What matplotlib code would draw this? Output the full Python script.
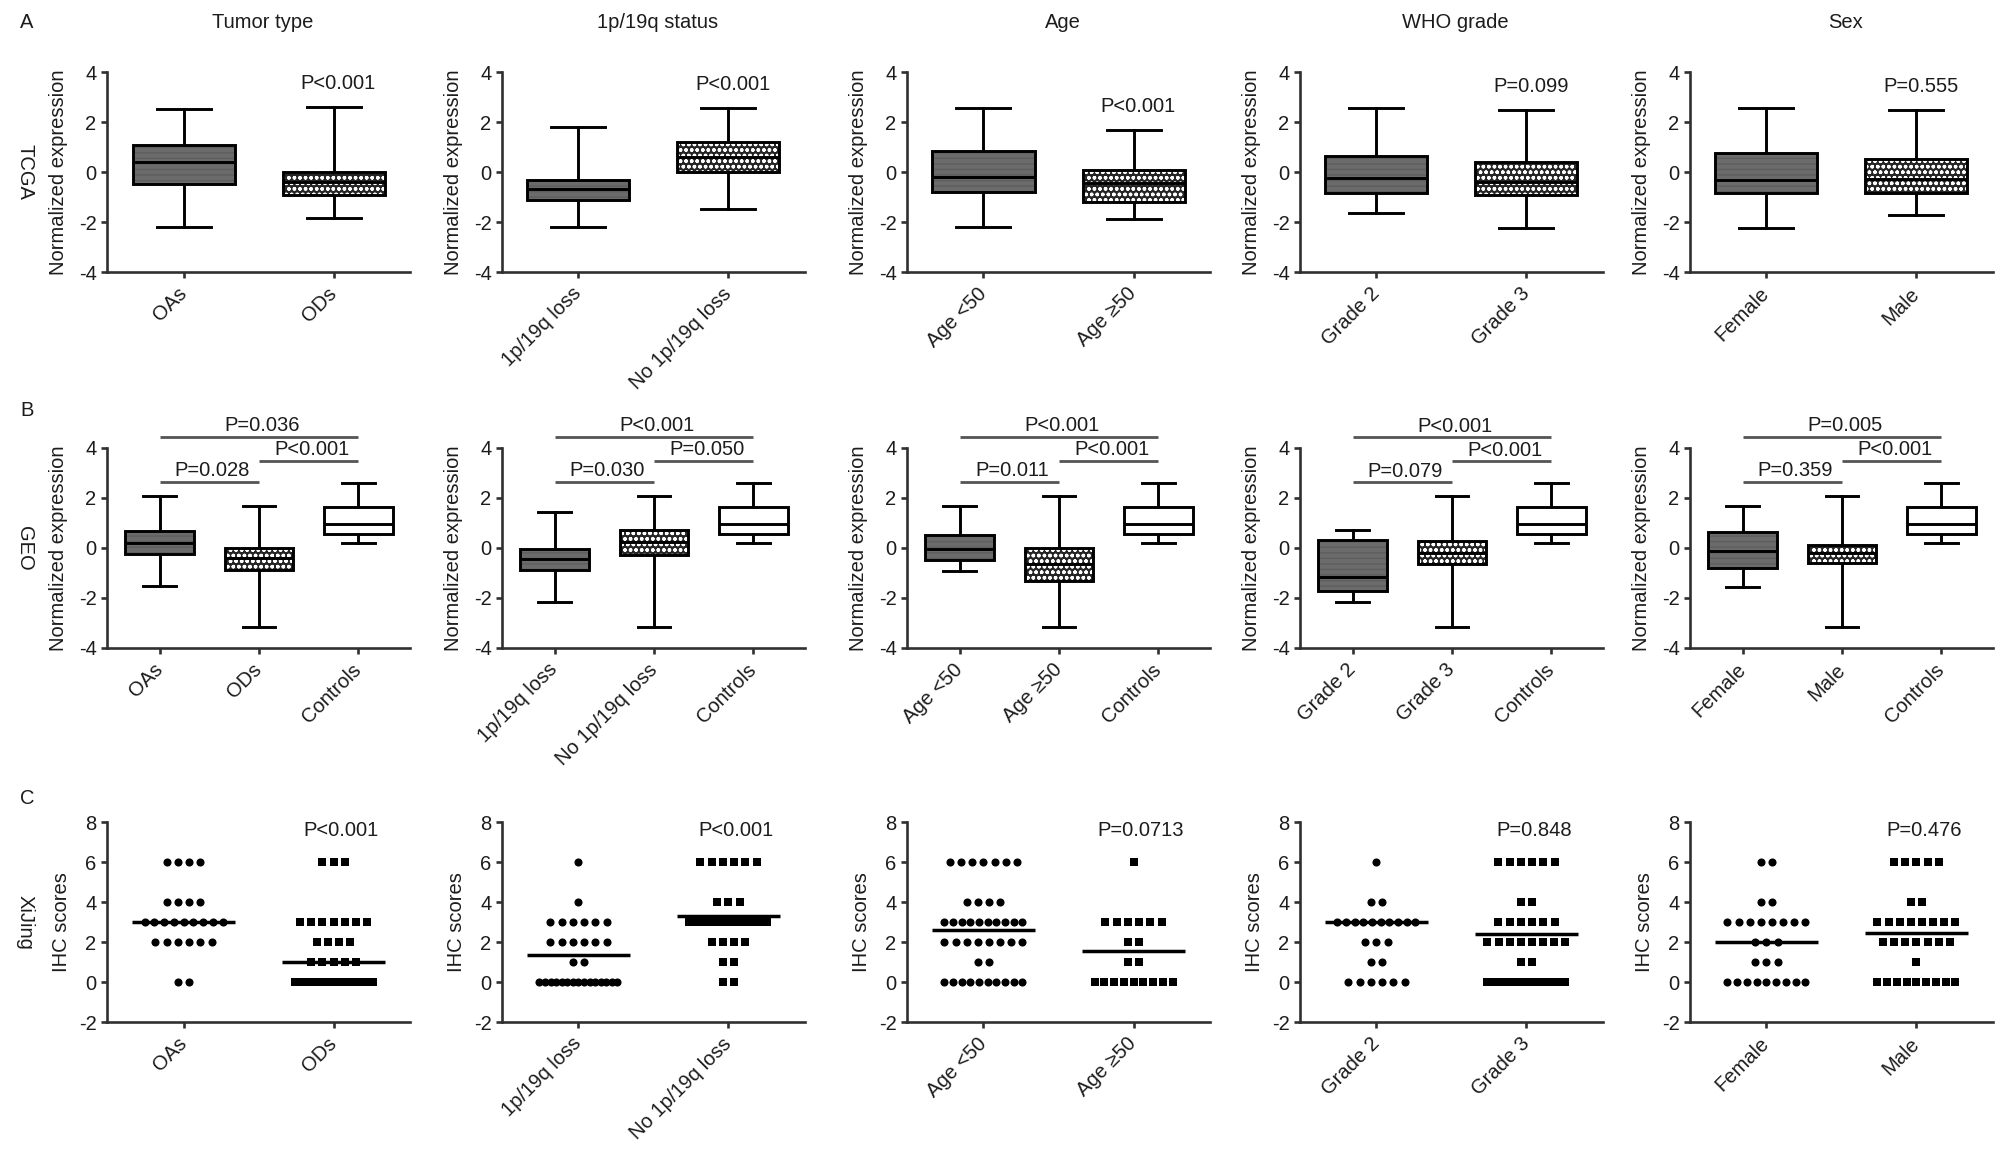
import numpy as np
import matplotlib
matplotlib.use('Agg')
import matplotlib.pyplot as plt
from matplotlib.patches import PathPatch

plt.rcParams['font.family'] = ['Liberation Sans', 'DejaVu Sans']
plt.rcParams['hatch.linewidth'] = 1.0
plt.rcParams['axes.unicode_minus'] = False

# ---- data ----
col_titles = ["Tumor type", "1p/19q status", "Age", "WHO grade", "Sex"]
group_labels = [["OAs", "ODs"],
                ["1p/19q loss", "No 1p/19q loss"],
                ["Age <50", "Age \u226550"],
                ["Grade 2", "Grade 3"],
                ["Female", "Male"]]

# A - TCGA box plots (two groups per panel)
tcga_lo = [[-2.2, -1.84], [-2.2, -1.47], [-2.2, -1.87], [-1.63, -2.24], [-2.23, -1.7]]
tcga_q1 = [[-0.47, -0.9], [-1.13, 0.0], [-0.8, -1.2], [-0.84, -0.93], [-0.84, -0.84]]
tcga_med = [[0.4, -0.4], [-0.67, 0.6], [-0.2, -0.44], [-0.24, -0.4], [-0.31, -0.27]]
tcga_q3 = [[1.07, 0.0], [-0.31, 1.2], [0.83, 0.1], [0.63, 0.4], [0.76, 0.51]]
tcga_hi = [[2.53, 2.6], [1.8, 2.57], [2.57, 1.7], [2.57, 2.47], [2.57, 2.47]]
tcga_p = ["P<0.001", "P<0.001", "P<0.001", "P=0.099", "P=0.555"]

# B - GEO box plots (two groups + controls)
geo_lo = [[-1.51, -3.17, 0.2], [-2.16, -3.17, 0.2], [-0.93, -3.17, 0.2], [-2.16, -3.17, 0.2], [-1.56, -3.17, 0.2]]
geo_q1 = [[-0.24, -0.87, 0.57], [-0.87, -0.29, 0.57], [-0.49, -1.31, 0.57], [-1.73, -0.63, 0.57], [-0.8, -0.6, 0.57]]
geo_med = [[0.2, -0.4, 0.95], [-0.44, 0.23, 0.95], [-0.04, -0.63, 0.95], [-1.17, -0.2, 0.95], [-0.13, -0.2, 0.95]]
geo_q3 = [[0.69, 0.0, 1.65], [-0.03, 0.73, 1.65], [0.51, 0.0, 1.65], [0.31, 0.29, 1.65], [0.64, 0.13, 1.65]]
geo_hi = [[2.09, 1.69, 2.6], [1.43, 2.09, 2.6], [1.69, 2.09, 2.6], [0.73, 2.07, 2.6], [1.69, 2.09, 2.6]]
# p values: group1 vs group2, group2 vs controls, group1 vs controls
geo_p = [["P=0.028", "P<0.001", "P=0.036"],
         ["P=0.030", "P=0.050", "P<0.001"],
         ["P=0.011", "P<0.001", "P<0.001"],
         ["P=0.079", "P<0.001", "P<0.001"],
         ["P=0.359", "P<0.001", "P=0.005"]]

# C - XiJing IHC scores: number of samples at each score
ihc_scores = [0, 1, 2, 3, 4, 6]
ihc_counts_g1 = [[2, 0, 6, 9, 4, 4], [15, 2, 6, 6, 1, 1], [10, 2, 8, 10, 4, 7],
                 [6, 2, 3, 10, 2, 1], [9, 3, 3, 8, 2, 2]]
ihc_counts_g2 = [[16, 5, 4, 7, 0, 3], [2, 2, 4, 12, 3, 6], [9, 2, 2, 6, 0, 1],
                 [12, 2, 8, 6, 2, 6], [9, 1, 7, 8, 2, 5]]
ihc_center = [[3.0, 1.0], [1.35, 3.3], [2.62, 1.55], [3.0, 2.38], [2.0, 2.47]]
xijing_p = ["P<0.001", "P<0.001", "P=0.0713", "P=0.848", "P=0.476"]

# ---- layout (pixels) ----
W, H = 2008, 1155
col_x = [107, 502, 907, 1300, 1690]
ax_w = 303
row_top = [72, 448, 822]
ax_h = 200
TXT = '#1c1c1c'
GRAY = '#6b6b6b'
DARK = '#262626'
FS = 14.5

fig = plt.figure(figsize=(W / 100, H / 100), dpi=100)


def make_ax(col, row):
    return fig.add_axes([col_x[col] / W, 1 - (row_top[row] + ax_h) / H, ax_w / W, ax_h / H])


def style(ax, labels, ylabel, ylim, yticks, xlim, lab_x):
    ax.set_xlim(*xlim)
    ax.set_ylim(*ylim)
    ax.set_yticks(yticks)
    ax.set_xticks(range(len(labels)))
    ax.set_xticklabels(labels, rotation=45, ha='right', va='center', rotation_mode='anchor')
    for s in ['top', 'right']:
        ax.spines[s].set_visible(False)
    for s in ['left', 'bottom']:
        ax.spines[s].set_linewidth(1.9)
        ax.spines[s].set_color('#303030')
    ax.tick_params(axis='both', length=4.5, width=1.9, color='#303030',
                   labelsize=FS, labelcolor=TXT)
    ax.tick_params(axis='x', pad=9)
    ax.tick_params(axis='y', pad=3)
    ax.set_ylabel(ylabel, fontsize=FS, color=TXT)
    ax.yaxis.set_label_coords(lab_x, 0.5)


def draw_boxes(ax, lo, q1, med, q3, hi, width, capw):
    n = len(lo)
    stats = [dict(whislo=lo[i], q1=q1[i], med=med[i], q3=q3[i], whishi=hi[i], fliers=[])
             for i in range(n)]
    bp = ax.bxp(stats, positions=list(range(n)), widths=width, capwidths=capw,
                patch_artist=True, showfliers=False,
                boxprops=dict(facecolor='none', edgecolor='black', linewidth=2.1, zorder=4),
                medianprops=dict(color='black', linewidth=2.1, zorder=5),
                whiskerprops=dict(color='black', linewidth=2.1),
                capprops=dict(color='black', linewidth=2.1))
    for i, box in enumerate(bp['boxes']):
        path = box.get_path()
        if i == 0:
            ax.add_patch(PathPatch(path, facecolor=GRAY, edgecolor='#5e5e5e', hatch='---',
                                   linewidth=0, zorder=2))
        elif i == 1:
            ax.add_patch(PathPatch(path, facecolor=DARK, edgecolor='white', hatch='ooo',
                                   linewidth=0, zorder=2))
        else:
            ax.add_patch(PathPatch(path, facecolor='white', edgecolor='none', zorder=2))
    return bp


# ---- row A : TCGA ----
for c in range(5):
    ax = make_ax(c, 0)
    draw_boxes(ax, tcga_lo[c], tcga_q1[c], tcga_med[c], tcga_q3[c], tcga_hi[c], 0.68, 0.36)
    style(ax, group_labels[c], "Normalized expression", (-4, 4), [-4, -2, 0, 2, 4],
          (-0.51, 1.51), -39 / ax_w)
    ax.text(1.03, tcga_hi[c][1] + 0.55, tcga_p[c], ha='center', va='bottom',
            fontsize=FS, color=TXT)
    fig.text((col_x[c] + ax_w / 2 + 4) / W, 1 - 22 / H, col_titles[c], ha='center', va='center',
             fontsize=FS, color=TXT)

# ---- row B : GEO ----
for c in range(5):
    ax = make_ax(c, 1)
    labels = group_labels[c] + ["Controls"]
    draw_boxes(ax, geo_lo[c], geo_q1[c], geo_med[c], geo_q3[c], geo_hi[c], 0.69, 0.33)
    style(ax, labels, "Normalized expression", (-4, 4), [-4, -2, 0, 2, 4],
          (-0.53, 2.52), -39 / ax_w)
    b1 = max(geo_hi[c][0], geo_hi[c][1]) + 0.55
    b2 = b1 + 0.85
    b3 = b2 + 0.95
    for (x0, x1), yb, lab in zip([(0, 1), (1, 2), (0, 2)], [b1, b2, b3], geo_p[c]):
        ax.plot([x0, x1], [yb, yb], color='#555555', lw=2.0, clip_on=False,
                solid_capstyle='butt')
        ax.text((x0 + x1) / 2 + 0.03, yb + 0.06, lab, ha='center', va='bottom',
                fontsize=FS, color=TXT, clip_on=False)

# ---- row C : XiJing ----
for c in range(5):
    ax = make_ax(c, 2)
    for g, (counts, marker) in enumerate([(ihc_counts_g1[c], 'o'), (ihc_counts_g2[c], 's')]):
        xs, ys = [], []
        for score, n in zip(ihc_scores, counts):
            if n == 0:
                continue
            step = min(0.075, 0.52 / (n - 1)) if n > 1 else 0
            xs.extend(g + (np.arange(n) - (n - 1) / 2) * step)
            ys.extend([score] * n)
        ax.scatter(xs, ys, marker=marker, s=34, color='black', linewidths=0, zorder=3)
        ax.plot([g - 0.345, g + 0.345], [ihc_center[c][g]] * 2, color='black', lw=2.5,
                zorder=4, solid_capstyle='butt')
    style(ax, group_labels[c], "IHC scores", (-2, 8), [-2, 0, 2, 4, 6, 8],
          (-0.51, 1.51), -36 / ax_w)
    ax.text(1.05, 7.6, xijing_p[c], ha='center', va='center', fontsize=FS, color=TXT)

# ---- panel letters and row labels ----
for letter, y in zip(["A", "B", "C"], [22, 410, 798]):
    fig.text(27 / W, 1 - y / H, letter, ha='center', va='center', fontsize=FS, color=TXT)
for name, r in zip(["TCGA", "GEO", "XiJing"], range(3)):
    fig.text(25 / W, 1 - (row_top[r] + ax_h / 2) / H, name, ha='center', va='center',
             rotation=270, fontsize=FS, color=TXT)

fig.savefig("out.png", dpi=100, facecolor='white')
